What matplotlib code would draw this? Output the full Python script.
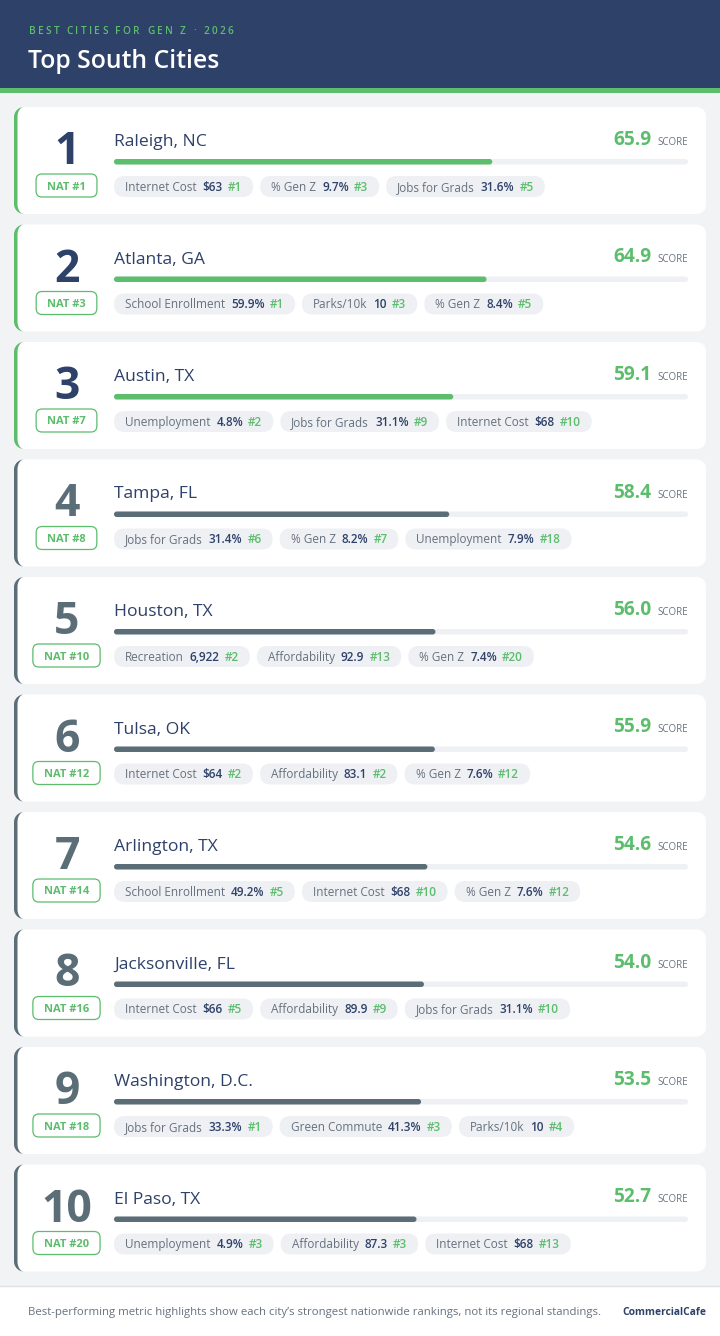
import matplotlib
matplotlib.use("Agg")
import matplotlib.pyplot as plt
import numpy as np
from matplotlib.patches import FancyBboxPatch, Rectangle, Polygon

plt.rcParams['font.family'] = ['Open Sans', 'DejaVu Sans']

NAVY = "#2e4169"
GREEN = "#5cbd6d"
SLATE = "#5b6e78"
BG = "#f1f3f5"
CHIP = "#eef0f3"
LABEL = "#66717f"

cities = ["Raleigh, NC", "Atlanta, GA", "Austin, TX", "Tampa, FL", "Houston, TX",
          "Tulsa, OK", "Arlington, TX", "Jacksonville, FL", "Washington, D.C.", "El Paso, TX"]
scores = [65.9, 64.9, 59.1, 58.4, 56.0, 55.9, 54.6, 54.0, 53.5, 52.7]
nat_ranks = [1, 3, 7, 8, 10, 12, 14, 16, 18, 20]

metric_labels = [
    ["Internet Cost", "% Gen Z", "Jobs for Grads"],
    ["School Enrollment", "Parks/10k", "% Gen Z"],
    ["Unemployment", "Jobs for Grads", "Internet Cost"],
    ["Jobs for Grads", "% Gen Z", "Unemployment"],
    ["Recreation", "Affordability", "% Gen Z"],
    ["Internet Cost", "Affordability", "% Gen Z"],
    ["School Enrollment", "Internet Cost", "% Gen Z"],
    ["Internet Cost", "Affordability", "Jobs for Grads"],
    ["Jobs for Grads", "Green Commute", "Parks/10k"],
    ["Unemployment", "Affordability", "Internet Cost"],
]
metric_values = [
    ["$63", "9.7%", "31.6%"],
    ["59.9%", "10", "8.4%"],
    ["4.8%", "31.1%", "$68"],
    ["31.4%", "8.2%", "7.9%"],
    ["6,922", "92.9", "7.4%"],
    ["$64", "83.1", "7.6%"],
    ["49.2%", "$68", "7.6%"],
    ["$66", "89.9", "31.1%"],
    ["33.3%", "41.3%", "10"],
    ["4.9%", "87.3", "$68"],
]
metric_ranks = [
    [1, 3, 5],
    [1, 3, 5],
    [2, 9, 10],
    [6, 7, 18],
    [2, 13, 20],
    [2, 2, 12],
    [5, 10, 12],
    [5, 9, 10],
    [1, 3, 4],
    [3, 3, 13],
]

subtitle = "BEST CITIES FOR GEN Z · 2026"
title = "Top South Cities"
footer = "Best-performing metric highlights show each city\u2019s strongest nationwide rankings, not its regional standings."
brand = "CommercialCafe"

W, H = 720, 1336
fig = plt.figure(figsize=(7.2, 13.36), dpi=100)
fig.patch.set_facecolor(BG)
ax = fig.add_axes([0, 0, 1, 1])
ax.set_xlim(0, W)
ax.set_ylim(H, 0)
ax.axis('off')
r = fig.canvas.get_renderer()


def width(t):
    return t.get_window_extent(renderer=r).width


def rbox(x, y, w, h, rad, **kw):
    p = FancyBboxPatch((x, y), w, h, boxstyle=f"round,pad=0,rounding_size={rad}", **kw)
    ax.add_patch(p)
    return p


def left_border(x, top, h, rad, bw, color):
    # crescent like a css border-left on a rounded box
    a = np.linspace(np.pi / 2, np.pi, 20)
    outer_top = np.c_[x + rad + rad * np.cos(a), top + rad - rad * np.sin(a)]
    outer_bot = np.c_[x + rad + rad * np.cos(a[::-1]), top + h - rad + rad * np.sin(a[::-1])]
    ri = rad - bw
    inner_bot = np.c_[x + rad + ri * np.cos(a), top + h - rad + rad * np.sin(a)]
    inner_top = np.c_[x + rad + ri * np.cos(a[::-1]), top + rad - rad * np.sin(a[::-1])]
    pts = np.vstack([outer_top, outer_bot, inner_bot, inner_top])
    ax.add_patch(Polygon(pts, closed=True, fc=color, ec='none', zorder=3))


# header
ax.add_patch(Rectangle((0, 0), W, 88, color=NAVY, lw=0))
ax.add_patch(Rectangle((0, 88), W, 4.5, color=GREEN, lw=0))
x = 29
for ch in subtitle:
    if ch == " ":
        x += 2.8 + 2.3
        continue
    t = ax.text(x, 34, ch, fontsize=7.2, color=GREEN, fontweight='semibold', va='baseline')
    x += width(t) + 2.3
ax.text(28, 68, title, fontsize=17.8, color="white", fontweight='semibold', va='baseline')

# cards
top0, step, card_h = 107, 117.5, 107
for i, city in enumerate(cities):
    top = top0 + i * step
    accent = GREEN if i < 3 else SLATE
    rbox(14, top, 692, card_h, 10, fc='white', ec='none', zorder=2)
    left_border(14, top, card_h, 10, 3.5, accent)

    ax.text(67, top + 57, str(i + 1), fontsize=32, fontweight='bold',
            color=NAVY if i < 3 else SLATE, ha='center', va='baseline', zorder=5)

    nt = ax.text(66.5, top + 82.5, f"NAT #{nat_ranks[i]}", fontsize=8, fontweight='bold',
                 color=GREEN, ha='center', va='baseline', zorder=5)
    bw = width(nt) + 22
    rbox(66.5 - bw / 2, top + 67, bw, 23, 6, fc='white', ec=GREEN, lw=0.9, zorder=4)

    ax.text(114, top + 39, city, fontsize=12.6, color=NAVY, va='baseline', zorder=5)

    st = ax.text(688, top + 38, "SCORE", fontsize=7, color=LABEL, ha='right', va='baseline', zorder=5)
    ax.text(688 - width(st) - 6, top + 38, f"{scores[i]:.1f}", fontsize=13.8, fontweight='bold',
            color=GREEN, ha='right', va='baseline', zorder=5)

    rbox(114, top + 52, 574, 5.5, 2.75, fc=CHIP, ec='none', zorder=3)
    rbox(114, top + 52, 574 * scores[i] / 100, 5.5, 2.75, fc=accent, ec='none', zorder=4)

    cx = 114
    cy = top + 79.5
    base = cy + 4.2
    for lab, val, rk in zip(metric_labels[i], metric_values[i], metric_ranks[i]):
        t1 = ax.text(cx + 11, base, lab, fontsize=8.5, color=LABEL, va='baseline', zorder=5)
        x2 = cx + 11 + width(t1) + 6
        t2 = ax.text(x2, base, val, fontsize=8.5, color=NAVY, fontweight='semibold', va='baseline', zorder=5)
        x3 = x2 + width(t2) + 5
        t3 = ax.text(x3, base, f"#{rk}", fontsize=8.5, color=GREEN, fontweight='semibold', va='baseline', zorder=5)
        end = x3 + width(t3) + 11
        rbox(cx, cy - 10.5, end - cx, 21, 10.5, fc=CHIP, ec='none', zorder=4)
        cx = end + 7

# footer
ax.add_patch(Rectangle((0, 1286), W, 50, fc='white', lw=0))
ax.plot([0, W], [1286, 1286], color="#dfe3e8", lw=1)
ax.text(28, 1315, footer, fontsize=8.2, color=LABEL, va='baseline')
ax.text(706, 1315, brand, fontsize=7.4, fontweight='bold', color=NAVY, ha='right', va='baseline')

fig.savefig("out.png", dpi=100, facecolor=BG)
